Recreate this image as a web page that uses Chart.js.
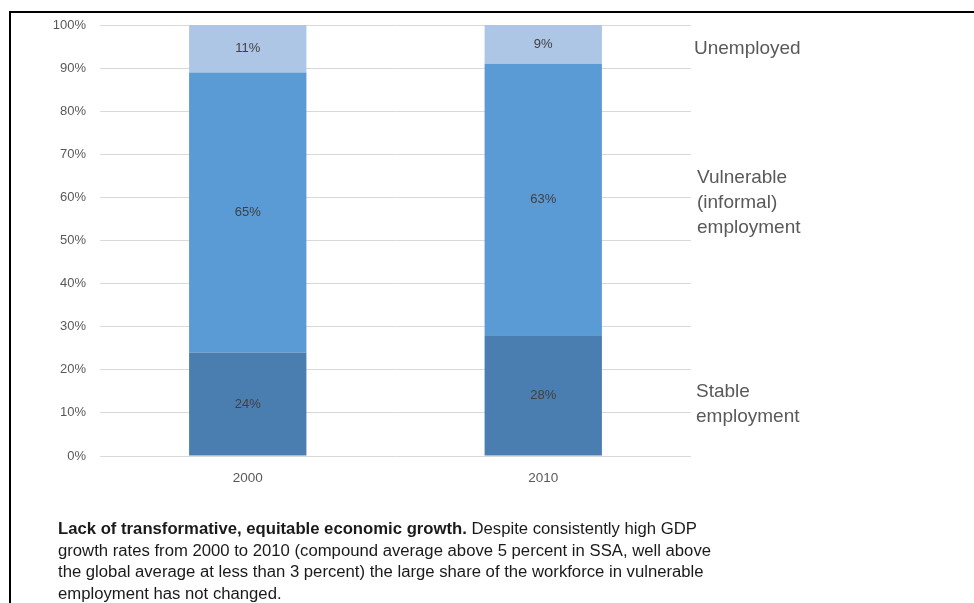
<!DOCTYPE html>
<html>
<head>
<meta charset="utf-8">
<script src="https://cdn.jsdelivr.net/npm/chart.js@4/dist/chart.umd.min.js"></script>
<style>
  html, body { margin: 0; padding: 0; background: #fff; }
  body { width: 974px; height: 603px; position: relative; overflow: hidden; font-family: "Liberation Sans", Arial, sans-serif; }
  #frame { position: absolute; left: 9px; top: 11px; width: 1000px; height: 700px; border-top: 2px solid #000; border-left: 2px solid #000; }
  #wrap { position: absolute; left: 0; top: 0; width: 974px; height: 603px; }
  .lab { position: absolute; color: #595959; font-size: 19px; line-height: 25px; white-space: nowrap; }
  #caption { position: absolute; left: 58px; top: 518px; color: #1a1a1a; font-size: 16px; line-height: 21.5px; white-space: nowrap; transform-origin: 0 0; }
  #caption div { white-space: nowrap; }
</style>
</head>
<body>
<div id="frame"></div>
<div id="wrap"><canvas id="c" width="974" height="603"></canvas></div>
<div class="lab" style="left:694px; top:35px;">Unemployed</div>
<div class="lab" style="left:697px; top:164px;">Vulnerable<br>(informal)<br>employment</div>
<div class="lab" style="left:696px; top:378px;">Stable<br>employment</div>
<div id="caption">
  <div id="l1"><b>Lack of transformative, equitable economic growth.</b> Despite consistently high GDP</div>
  <div id="l2">growth rates from 2000 to 2010 (compound average above 5 percent in SSA, well above</div>
  <div id="l3">the global average at less than 3 percent) the large share of the workforce in vulnerable</div>
  <div id="l4">employment has not changed.</div>
</div>
<script>
const categories = ["2000", "2010"];
const stableEmployment = [24, 28];
const vulnerableEmployment = [65, 63];
const unemployed = [11, 9];
const yTicks = [0, 10, 20, 30, 40, 50, 60, 70, 80, 90, 100];

// fit caption horizontally (Calibri-like narrow width)
(function () {
  const cap = document.getElementById('caption');
  const l2 = document.getElementById('l2');
  const w = l2.getBoundingClientRect().width;
  const target = 653;
  cap.style.transform = 'scaleX(' + (target / w) + ')';
})();

const segLabels = {
  id: 'segLabels',
  afterDatasetsDraw(chart) {
    const ctx = chart.ctx;
    ctx.save();
    ctx.font = '13px "Liberation Sans", Arial, sans-serif';
    ctx.fillStyle = '#404040';
    ctx.textAlign = 'center';
    ctx.textBaseline = 'middle';
    chart.data.datasets.forEach((ds, i) => {
      const meta = chart.getDatasetMeta(i);
      meta.data.forEach((bar, j) => {
        const y = (bar.y + bar.base) / 2;
        ctx.fillText(ds.data[j] + '%', bar.x, y);
      });
    });
    ctx.restore();
  }
};

new Chart(document.getElementById('c'), {
  type: 'bar',
  data: {
    labels: categories,
    datasets: [
      { label: 'Stable employment', data: stableEmployment, backgroundColor: '#4a7eb0' },
      { label: 'Vulnerable (informal) employment', data: vulnerableEmployment, backgroundColor: '#5a9ad5' },
      { label: 'Unemployed', data: unemployed, backgroundColor: '#adc6e6' }
    ]
  },
  options: {
    responsive: false,
    animation: false,
    devicePixelRatio: 1,
    layout: { padding: { left: 0, top: 25, right: 283, bottom: 0 } },
    datasets: { bar: { categoryPercentage: 1, barPercentage: 0.397 } },
    plugins: { legend: { display: false }, tooltip: { enabled: false } },
    scales: {
      x: {
        stacked: true,
        grid: { display: false, drawTicks: false },
        border: { display: false },
        ticks: { color: '#595959', font: { size: 13.5, family: '"Liberation Sans", Arial, sans-serif' }, padding: 14 },
        afterFit(scale) { scale.height = 603 - 456; }
      },
      y: {
        stacked: true,
        min: 0, max: 100,
        afterBuildTicks(scale) { scale.ticks = yTicks.map(v => ({ value: v })); },
        grid: { color: '#d9d9d9', lineWidth: 1, drawTicks: false },
        border: { display: false },
        ticks: {
          color: '#595959',
          font: { size: 13, family: '"Liberation Sans", Arial, sans-serif' },
          padding: 14,
          callback: v => v + '%'
        },
        afterFit(scale) { scale.width = 100; }
      }
    }
  },
  plugins: [segLabels]
});
</script>
</body>
</html>
